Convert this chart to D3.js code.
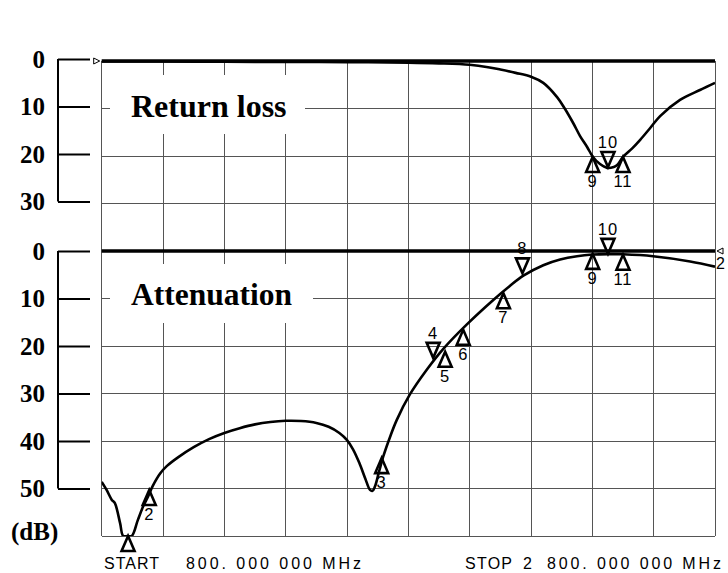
<!DOCTYPE html>
<html>
<head>
<meta charset="utf-8">
<script src="https://cdn.jsdelivr.net/npm/d3@7"></script>
<style>
  body { margin: 0; background: #fff; }
  svg { display: block; }
</style>
</head>
<body>
<div id="chart"></div>
<script>
// frequency axis (MHz)
const freqStart = 800, freqStop = 2800, freqStep = 200

// return loss trace (top), dB
const rlFreq = [800, 1000, 1200, 1400, 1600, 1800, 1900, 2000, 2060, 2100, 2150, 2200, 2240, 2285, 2310, 2337, 2360, 2383, 2402, 2425, 2448, 2470, 2481, 2500, 2530, 2556, 2590, 2621, 2686, 2751, 2800]
const rlDb = [0.1, 0.1, 0.15, 0.2, 0.25, 0.35, 0.5, 0.8, 1.3, 1.8, 2.5, 3.3, 4.6, 7.6, 10, 13, 15.8, 18.1, 20.2, 21.7, 22.5, 22.3, 21.9, 20.2, 18.4, 16.6, 14, 11.6, 8.2, 6.1, 4.6]

// attenuation trace (bottom), dB
const atFreq = [800, 816, 833, 843, 860, 870, 884, 898, 918, 935, 951, 967, 990, 1012, 1050, 1100, 1150, 1200, 1250, 1300, 1350, 1400, 1450, 1500, 1540, 1575, 1600, 1620, 1640, 1660, 1675, 1683, 1691, 1705, 1718, 1740, 1762, 1805, 1860, 1914, 1990, 2077, 2130, 2175, 2240, 2295, 2350, 2401, 2451, 2500, 2598, 2719, 2800]
const atDb = [48.6, 50.3, 52.4, 53.1, 57.3, 60, 63, 60, 56.6, 53.8, 51.7, 49.4, 46.9, 45.3, 43.4, 41.3, 39.6, 38.3, 37.3, 36.5, 36.0, 35.75, 35.8, 36.2, 37.0, 38.3, 39.8, 41.8, 44.6, 48.0, 50.3, 50.5, 49.6, 46.3, 43.3, 39.2, 35.6, 30.2, 25.0, 20.6, 15.5, 10.3, 7.4, 5.2, 3.0, 1.8, 1.1, 0.75, 0.65, 0.7, 1.1, 2.2, 3.3]

// markers: number, freq, dB, direction (up = triangle below point)
const rlMarkNum = [9, 10, 11]
const rlMarkFreq = [2401, 2451, 2500]
const rlMarkDb = [20.2, 22.3, 20.2]
const rlMarkDir = ["up", "down", "up"]

const atMarkNum = [1, 2, 3, 4, 5, 6, 7, 8, 9, 10, 11]
const atMarkFreq = [886, 955, 1713, 1881, 1920, 1979, 2110, 2172, 2401, 2451, 2500]
const atMarkDb = [60, 50.3, 43.6, 22.5, 21.2, 16.6, 8.9, 4.7, 0.6, 0.6, 0.8]
const atMarkDir = ["up", "up", "up", "down", "up", "up", "up", "down", "up", "down", "up"]

const rlTicks = [0, 10, 20, 30]
const atTicks = [0, 10, 20, 30, 40, 50]

const width = 728, height = 573
const plot = { left: 101.7, right: 715, top: 61, bottom: 536 }

const svg = d3.select("#chart").append("svg")
    .attr("width", width)
    .attr("height", height)

const x = d3.scaleLinear().domain([freqStart, freqStop]).range([plot.left, plot.right])
const yGrid = d3.scaleLinear().domain([0, 10]).range([plot.top, plot.bottom])
const yRL = d3.scaleLinear().domain([0, 30]).range([yGrid(0), yGrid(3)])
const yAT = d3.scaleLinear().domain([0, 60]).range([yGrid(4), yGrid(10)])

svg.append("defs").append("clipPath").attr("id", "plotclip")
    .append("rect")
    .attr("x", plot.left).attr("y", plot.top - 5)
    .attr("width", plot.right - plot.left).attr("height", plot.bottom - plot.top + 5)

// grid
const grid = svg.append("g").attr("shape-rendering", "crispEdges")
    .attr("stroke", "#555").attr("stroke-width", 1)
grid.selectAll(".vl").data(d3.range(freqStart, freqStop + 1, freqStep)).enter()
    .append("line").attr("class", "vl")
    .attr("x1", d => x(d)).attr("x2", d => x(d))
    .attr("y1", plot.top).attr("y2", plot.bottom)
grid.selectAll(".hl").data(d3.range(0, 11)).enter()
    .append("line").attr("class", "hl")
    .attr("x1", plot.left).attr("x2", plot.right)
    .attr("y1", d => yGrid(d)).attr("y2", d => yGrid(d))

// caption boxes (white, cut through the grid)
const captions = [
    { text: "Return loss", base: 117, size: 32, box: [110, 75, 305, 134] },
    { text: "Attenuation", base: 305, size: 31.5, box: [110, 264, 313, 323] }
]
captions.forEach(c => {
    svg.append("rect")
        .attr("x", c.box[0]).attr("y", c.box[1])
        .attr("width", c.box[2] - c.box[0]).attr("height", c.box[3] - c.box[1])
        .attr("fill", "#fff")
    svg.append("text")
        .attr("x", 131).attr("y", c.base)
        .attr("font-family", "'Liberation Serif', 'Times New Roman', serif")
        .attr("font-weight", "bold")
        .attr("font-size", c.size)
        .text(c.text)
})

// reference lines (0 dB)
svg.append("line")
    .attr("x1", plot.left).attr("x2", plot.right)
    .attr("y1", yRL(0)).attr("y2", yRL(0))
    .attr("stroke", "#000").attr("stroke-width", 3.5)
svg.append("line")
    .attr("x1", plot.left).attr("x2", plot.right)
    .attr("y1", yAT(0)).attr("y2", yAT(0))
    .attr("stroke", "#000").attr("stroke-width", 3.5)

// ref pointers
svg.append("path")
    .attr("d", `M${plot.left - 8},${yRL(0) - 3} L${plot.left - 2},${yRL(0)} L${plot.left - 8},${yRL(0) + 3} Z`)
    .attr("fill", "#fff").attr("stroke", "#000").attr("stroke-width", 1)
svg.append("path")
    .attr("d", `M${plot.right + 8},${yAT(0) - 3} L${plot.right + 2},${yAT(0)} L${plot.right + 8},${yAT(0) + 3} Z`)
    .attr("fill", "#fff").attr("stroke", "#000").attr("stroke-width", 1)
svg.append("text")
    .attr("x", plot.right + 1).attr("y", yAT(0) + 18)
    .attr("font-family", "'Liberation Sans', Arial, sans-serif")
    .attr("font-size", 16)
    .text("2")

// traces
const traces = svg.append("g").attr("clip-path", "url(#plotclip)")
const rlLine = d3.line().x(d => x(d[0])).y(d => yRL(d[1])).curve(d3.curveCatmullRom.alpha(0.5))
const atLine = d3.line().x(d => x(d[0])).y(d => yAT(Math.min(d[1], 60))).curve(d3.curveCatmullRom.alpha(0.5))

traces.append("path")
    .datum(d3.zip(rlFreq, rlDb))
    .attr("d", rlLine)
    .attr("fill", "none").attr("stroke", "#000").attr("stroke-width", 2.6)
    .attr("stroke-linejoin", "round")
traces.append("path")
    .datum(d3.zip(atFreq, atDb))
    .attr("d", atLine)
    .attr("fill", "none").attr("stroke", "#000").attr("stroke-width", 2.6)
    .attr("stroke-linejoin", "round")

// markers
function drawMarkers(nums, freqs, dbs, dirs, yScale, skipLabel) {
    const g = svg.append("g")
    nums.forEach((n, i) => {
        const px = x(freqs[i]), py = yScale(dbs[i])
        const up = dirs[i] == "up"
        const h = 15, w = 6.5
        const by = up ? py + h : py - h
        g.append("path")
            .attr("d", `M${px},${py} L${px - w},${by} L${px + w},${by} Z`)
            .attr("fill", "none").attr("stroke", "#000").attr("stroke-width", 2.6)
            .attr("stroke-linejoin", "miter")
        if (skipLabel.includes(n)) return
        g.append("text")
            .attr("x", px).attr("y", up ? py + 30 : py - 19)
            .attr("text-anchor", "middle")
            .attr("font-family", "'Liberation Sans', Arial, sans-serif")
            .attr("font-size", 16.5)
            .attr("letter-spacing", 1)
            .text(n)
    })
}
drawMarkers(rlMarkNum, rlMarkFreq, rlMarkDb, rlMarkDir, yRL, [])
drawMarkers(atMarkNum, atMarkFreq, atMarkDb, atMarkDir, yAT, [1])

// left dB axes (bracket style)
function drawAxis(scale, ticks, shift) {
    const g = svg.append("g")
        .attr("transform", `translate(90,${shift})`)
        .call(d3.axisLeft(scale).tickValues(ticks).tickSize(32).tickPadding(13).tickFormat(d3.format("d")))
    g.select(".domain").remove()
    g.selectAll(".tick line").attr("stroke", "#000").attr("stroke-width", 2)
    g.selectAll(".tick text")
        .attr("font-family", "'Liberation Serif', 'Times New Roman', serif")
        .attr("font-weight", "bold")
        .attr("font-size", 25)
        .attr("fill", "#000")
    g.append("line")
        .attr("x1", -32).attr("x2", -32)
        .attr("y1", scale(ticks[0])).attr("y2", scale(ticks[ticks.length - 1]))
        .attr("stroke", "#000").attr("stroke-width", 2)
}
drawAxis(yRL, rlTicks, -2)
drawAxis(yAT, atTicks, 0)

svg.append("text")
    .attr("x", 11).attr("y", 540)
    .attr("font-family", "'Liberation Serif', 'Times New Roman', serif")
    .attr("font-weight", "bold")
    .attr("font-size", 25)
    .text("(dB)")

// start / stop annotation
const footer = [
    ["START", 104, 55],
    ["800. 000  000  MHz", 186, 175],
    ["STOP", 465, 47],
    ["2", 523, 12],
    ["800. 000  000  MHz", 547, 174]
]
footer.forEach(f => {
    svg.append("text")
        .attr("x", f[1]).attr("y", 569)
        .attr("font-family", "'Liberation Sans', Arial, sans-serif")
        .attr("font-size", 16)
        .attr("textLength", f[2])
        .attr("lengthAdjust", "spacing")
        .text(f[0])
})
</script>
</body>
</html>
